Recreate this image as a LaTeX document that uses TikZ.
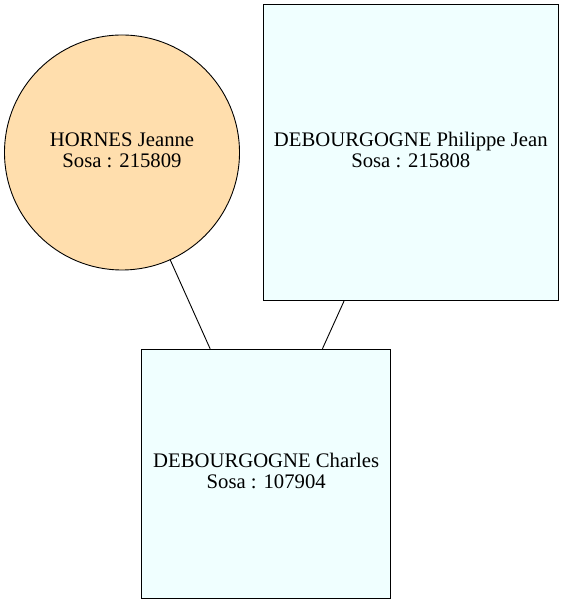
\documentclass[tikz,border=0pt]{standalone}
\usepackage{fontspec}
\setmainfont{Liberation Serif}
\definecolor{navajo}{HTML}{FFDEAD}
\definecolor{azurefill}{HTML}{F0FFFF}
\tikzset{
  person/.style={draw=black, line width=0.9pt, inner sep=0pt},
  femme/.style={person, circle, fill=navajo, minimum size=235pt},
  homme/.style={person, rectangle, fill=azurefill},
  txt/.style={align=center, inner sep=0pt, font=\fontsize{20.7}{21}\selectfont},
  link/.style={draw=black, line width=0.9pt}
}
\begin{document}
\begin{tikzpicture}[x=1pt,y=1pt]
\useasboundingbox (0,0) rectangle (565,604);
\node[femme] (c) at (122,451.5) {};
\node[homme, minimum width=295pt, minimum height=295.7pt] (s1) at (410.8,451.2) {};
\node[homme, minimum width=249pt, minimum height=249pt] (s2) at (266.2,130.3) {};
\draw[link] (c) -- (s2);
\draw[link] (s1) -- (s2);
\node[txt] (tc) at ([yshift=2.4pt]c.center) {HORNES Jeanne\\Sosa : 215809};
\node[txt] (t1) at ([yshift=2.6pt]s1.center) {DEBOURGOGNE Philippe Jean\\Sosa : 215808};
\node[txt] (t2) at ([yshift=2.6pt]s2.center) {DEBOURGOGNE Charles\\Sosa : 107904};
\end{tikzpicture}
\end{document}
